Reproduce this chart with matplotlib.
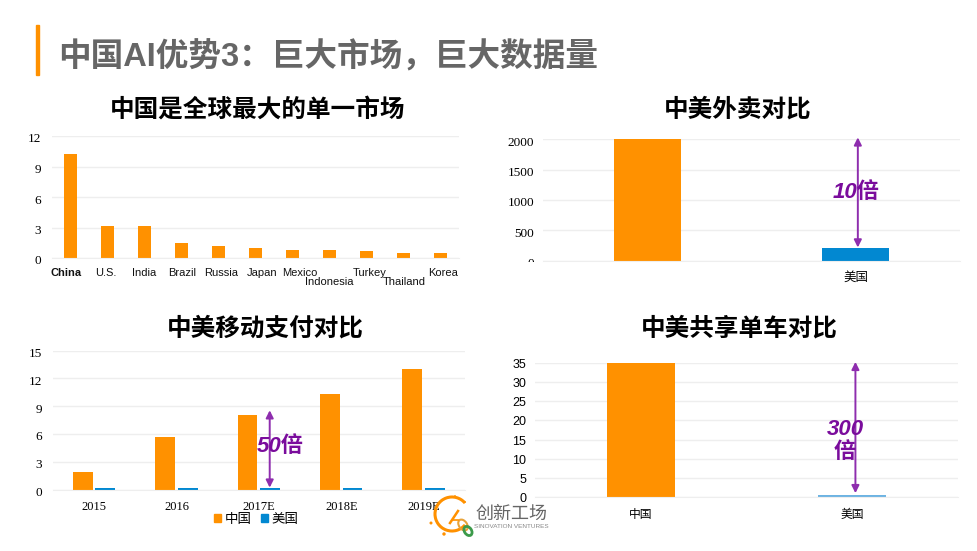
import matplotlib
matplotlib.use("Agg")
import matplotlib.pyplot as plt
from matplotlib.lines import Line2D
from matplotlib.patches import Arc, Circle, Ellipse, Patch, Rectangle
from matplotlib.transforms import Bbox, ScaledTranslation

# --- Data ---
countries = ["China", "U.S.", "India", "Brazil", "Russia", "Japan", "Mexico",
             "Indonesia", "Turkey", "Thailand", "Korea"]
market_values = [10.2, 3.1, 3.1, 1.45, 1.15, 0.95, 0.8, 0.8, 0.7, 0.5, 0.5]
market_ticks = [0, 3, 6, 9, 12]

delivery_names = ["", "美国"]
delivery_values = [2000, 200]
delivery_ticks = [0, 500, 1000, 1500, 2000]

years = ["2015", "2016", "2017E", "2018E", "2019E"]
pay_china = [1.9, 5.7, 8.0, 10.3, 13.0]
pay_us = [0.15, 0.15, 0.15, 0.15, 0.15]
pay_ticks = [0, 3, 6, 9, 12, 15]

bike_names = ["中国", "美国"]
bike_values = [35, 0.5]
bike_ticks = [0, 5, 10, 15, 20, 25, 30, 35]

# --- Style ---
W, H = 977, 551
ORANGE = "#FF9100"
BLUE = "#0288D1"
LIGHT_BLUE = "#6DB3E2"
PURPLE = "#8E2DAE"
DEEP_PURPLE = "#7A0C9C"
CJK = "Noto Sans CJK SC"
SANS = "Liberation Sans"
SERIF = "Liberation Serif"

fig = plt.figure(figsize=(W / 100, H / 100), dpi=100, facecolor="white")


def make_axes(left, top, right, bottom, ymax, ticks, tick_font, tick_size, pad_px, nudge_px=2):
    ax = fig.add_axes([left / W, 1 - bottom / H, (right - left) / W, (bottom - top) / H])
    ax.set_ylim(0, ymax)
    ax.set_yticks(ticks)
    ax.grid(axis="y", color="#EEEEEE", linewidth=1)
    ax.set_axisbelow(True)
    for side in ax.spines:
        ax.spines[side].set_visible(False)
    ax.spines["bottom"].set_visible(True)
    ax.spines["bottom"].set_color("#EEEEEE")
    ax.tick_params(axis="both", length=0)
    ax.tick_params(axis="y", pad=pad_px * 0.72)
    label_nudge = ScaledTranslation(0, -nudge_px / 100, fig.dpi_scale_trans)
    for lab in ax.get_yticklabels():
        lab.set_fontfamily(tick_font)
        lab.set_fontsize(tick_size)
        lab.set_color("black")
        lab.set_transform(lab.get_transform() + label_nudge)
    return ax


def chart_title(x, y, text):
    fig.text(x / W, 1 - y / H, text, family=CJK, weight="bold", fontsize=17.7,
             ha="center", va="center", color="black")


def double_arrow(ax, x, y0, y1):
    ax.annotate("", xy=(x, y1), xytext=(x, y0), annotation_clip=False,
                arrowprops=dict(arrowstyle="<|-|>", color=PURPLE, lw=1.4,
                                mutation_scale=11, shrinkA=0, shrinkB=0))


def fold_label(x, y, text):
    fig.text(x / W, 1 - y / H, text, family=[SANS, CJK], style="italic", weight="bold",
             fontsize=16, color=DEEP_PURPLE, ha="center", va="center", zorder=10,
             linespacing=1.15)


# --- Page heading ---
fig.add_artist(Rectangle((36 / W, 1 - 75 / H), 3 / W, 50 / H, color=ORANGE,
                         transform=fig.transFigure))
fig.text(58 / W, 1 - 57 / H, "中国AI优势3：巨大市场，巨大数据量", family=[SANS, CJK],
         weight="bold", fontsize=23.5, color="#666666", ha="left", va="center")

# --- Top left: single market ---
chart_title(258, 110, "中国是全球最大的单一市场")
ax1 = make_axes(52, 136, 459, 258, 12, market_ticks, SERIF, 9.5, 11)
ax1.bar(range(len(countries)), market_values, width=0.33, color=ORANGE)
ax1.set_xlim(-0.5, len(countries) - 0.5)
ax1.set_xticks([])
label_shift = [-4.5, -1.5, 0, 1, 2.5, 6.5, 7, 0, 3, 1, 2.5]
label_drop = [15, 15, 15, 15, 15, 15, 15, 24, 15, 24, 15]
for i, name in enumerate(countries):
    ax1.annotate(name, xy=(i, 0), xytext=(label_shift[i] * 0.72, -label_drop[i] * 0.72),
                 textcoords="offset points", ha="center", va="center", family=SANS,
                 fontsize=8, color="#111111", weight="bold" if i == 0 else "normal",
                 annotation_clip=False)

# --- Top right: food delivery ---
chart_title(738, 110, "中美外卖对比")
ax2 = make_axes(543, 139.5, 960, 260.5, 2000, delivery_ticks, SERIF, 9.5, 9)
ax2.bar(range(2), delivery_values, width=0.32, color=[ORANGE, BLUE])
ax2.set_xlim(-0.5, 1.5)
ax2.set_xticks(range(2))
ax2.set_xticklabels(delivery_names, family=CJK, fontsize=9)
ax2.tick_params(axis="x", pad=7.5)
double_arrow(ax2, 1.01, 215, 2035)
fold_label(856, 192, "10倍")
# the zero label is cut off at the plot bottom in the source
zero_label = ax2.get_yticklabels()[0]
zero_label.set_clip_on(True)
zero_label.set_clip_box(Bbox([[0, H - 262], [W, H]]))

# --- Bottom left: mobile payment ---
chart_title(265, 328.5, "中美移动支付对比")
ax3 = make_axes(53, 350.5, 465, 489.5, 15, pay_ticks, SERIF, 9.5, 11)
xs = list(range(len(years)))
ax3.bar([x - 0.14 for x in xs], pay_china, width=0.24, color=ORANGE)
ax3.bar([x + 0.135 for x in xs], pay_us, width=0.24, color=BLUE)
ax3.set_xlim(-0.5, len(years) - 0.5)
ax3.set_xticks(xs)
ax3.set_xticklabels(years, family=SERIF, fontsize=9)
ax3.tick_params(axis="x", pad=8.5)
double_arrow(ax3, 2.13, 0.2, 8.55)
fold_label(280, 446, "50倍")
ax3.legend(handles=[Patch(color=ORANGE, label="中国"), Patch(color=BLUE, label="美国")],
           loc="center", bbox_to_anchor=(256 / W, 1 - 519 / H), bbox_transform=fig.transFigure,
           ncol=2, frameon=False, prop={"family": CJK, "size": 9.7}, handlelength=0.55,
           handleheight=0.55, handletextpad=0.25, columnspacing=0.7, borderpad=0)

# --- Bottom right: shared bikes ---
chart_title(739, 328.5, "中美共享单车对比")
ax4 = make_axes(535, 363, 958, 497, 35, bike_ticks, SANS, 9, 9, nudge_px=0.5)
ax4.bar(range(2), bike_values, width=0.32, color=[ORANGE, LIGHT_BLUE])
ax4.set_xlim(-0.5, 1.5)
ax4.set_xticks(range(2))
ax4.set_xticklabels(bike_names, family=CJK, fontsize=8.5)
ax4.tick_params(axis="x", pad=8)
double_arrow(ax4, 1.015, 1.0, 35.3)
fold_label(845, 441, "300\n倍")

# --- Logo, drawn in page pixels ---
logo = fig.add_axes([0, 0, 1, 1], facecolor="none")
logo.set_xlim(0, W)
logo.set_ylim(H, 0)
logo.axis("off")
logo.add_patch(Arc((452, 514), 34, 34, theta1=40, theta2=320, color=ORANGE, lw=2.2))
for cx, cy, r in [(431, 523, 1.5), (444, 534, 1.7), (455, 496, 0.9), (465, 502, 0.9)]:
    logo.add_patch(Circle((cx, cy), r, color=ORANGE, lw=0))
logo.add_patch(Ellipse((463, 525), 8, 12, angle=-35, fill=False, edgecolor="#E8A33A", lw=1.5))
logo.add_patch(Ellipse((468, 531), 7, 10, angle=-35, fill=False, edgecolor="#3C9A4A", lw=2.0))
logo.add_line(Line2D([450, 458], [523, 511], color=ORANGE, lw=1.8))
logo.add_line(Line2D([453, 458], [520, 520], color=ORANGE, lw=1.2))
logo.text(511.5, 513.5, "创新工场", family=CJK, fontsize=13, color="#666666", ha="center", va="center")
logo.text(511.5, 526, "SINOVATION VENTURES", family=SANS, fontsize=4.6, color="#888888",
          ha="center", va="center")

fig.savefig("out.png", dpi=100)
